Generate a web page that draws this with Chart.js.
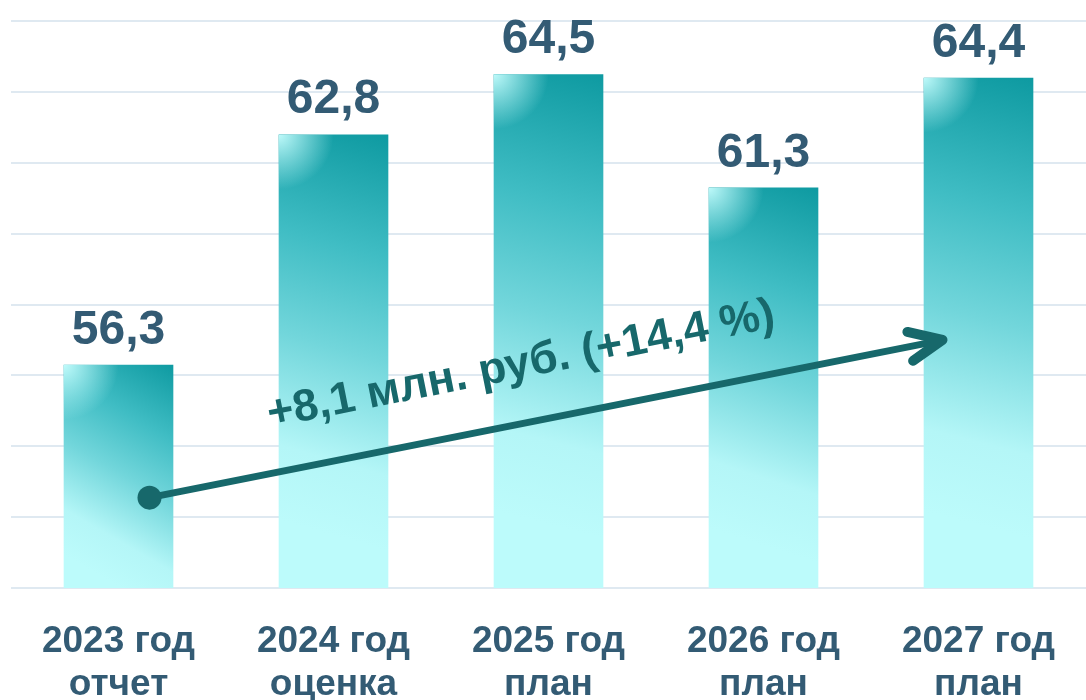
<!DOCTYPE html>
<html>
<head>
<meta charset="utf-8">
<script src="https://cdn.jsdelivr.net/npm/chart.js@4"></script>
<style>
    body { margin: 0; background: #ffffff; }
</style>
</head>
<body>
<canvas id="budget" width="1086" height="700"></canvas>
<script>
// Data for the chart
var years = ['2023 год', '2024 год', '2025 год', '2026 год', '2027 год'];
var stages = ['отчет', 'оценка', 'план', 'план', 'план'];
var values = [56.3, 62.8, 64.5, 61.3, 64.4];
var growthText = '+8,1 млн. руб. (+14,4 %)';

var textColor = '#335b74';
var arrowColor = '#17686b';
var fontFamily = '"Liberation Sans", Arial, sans-serif';

// Bar fill: diagonal teal gradient, built from the scales
function barFill(context) {
    var chart = context.chart;
    if (!chart.chartArea || context.type !== 'data') return '#4cc4cc';
    var xs = chart.scales.x, ys = chart.scales.y;
    var cx = xs.getPixelForValue(context.dataIndex);
    var top = ys.getPixelForValue(context.raw);
    var bottom = ys.getPixelForValue(ys.min);
    var half = 55;
    var g = chart.ctx.createLinearGradient(cx + half, top, cx - half, top + (bottom - top) * 0.85);
    g.addColorStop(0, '#0e9aa1');
    g.addColorStop(0.3, '#40bdc4');
    g.addColorStop(0.55, '#72d6db');
    g.addColorStop(0.82, '#b4f6f7');
    g.addColorStop(1, '#bcfbfb');
    return g;
}

// Light highlight in the top-left corner of every bar + value labels
var barExtras = {
    id: 'barExtras',
    afterDatasetsDraw: function (chart) {
        var ctx = chart.ctx;
        var meta = chart.getDatasetMeta(0);
        meta.data.forEach(function (bar, i) {
            var left = bar.x - bar.width / 2;
            ctx.save();
            ctx.beginPath();
            ctx.rect(left, bar.y, bar.width, bar.base - bar.y);
            ctx.clip();
            var r = ctx.createRadialGradient(left, bar.y, 0, left, bar.y, 55);
            r.addColorStop(0, 'rgba(200,255,255,0.95)');
            r.addColorStop(1, 'rgba(200,255,255,0)');
            ctx.fillStyle = r;
            ctx.fillRect(left, bar.y, 60, 60);
            ctx.restore();

            ctx.save();
            ctx.fillStyle = textColor;
            ctx.font = 'bold 48px ' + fontFamily;
            ctx.textAlign = 'center';
            ctx.textBaseline = 'alphabetic';
            ctx.fillText(values[i].toFixed(1).replace('.', ','), bar.x, bar.y - 21);
            ctx.restore();
        });
    }
};

// Growth arrow from the first year to the last one
var growthArrow = {
    id: 'growthArrow',
    afterDraw: function (chart) {
        var ctx = chart.ctx;
        var xs = chart.scales.x, ys = chart.scales.y;
        var x1 = xs.getPixelForValue(0) + 31, y1 = ys.getPixelForValue(52.55);
        var x2 = xs.getPixelForValue(4) - 36, y2 = ys.getPixelForValue(57.0);
        var ang = Math.atan2(y2 - y1, x2 - x1);

        ctx.save();
        ctx.strokeStyle = arrowColor;
        ctx.fillStyle = arrowColor;
        ctx.lineWidth = 7;
        ctx.lineCap = 'round';
        ctx.lineJoin = 'round';
        ctx.beginPath();
        ctx.moveTo(x1, y1);
        ctx.lineTo(x2 - 4, y2 + 1);
        ctx.stroke();

        // arrow head
        var len = 36, spread = 0.42;
        ctx.lineWidth = 10;
        ctx.beginPath();
        ctx.moveTo(x2 - len * Math.cos(ang - spread), y2 - len * Math.sin(ang - spread));
        ctx.lineTo(x2, y2);
        ctx.lineTo(x2 - len * Math.cos(ang + spread), y2 - len * Math.sin(ang + spread));
        ctx.stroke();

        // start dot
        ctx.beginPath();
        ctx.arc(x1, y1, 12, 0, Math.PI * 2);
        ctx.fill();

        // caption along the arrow
        var mx = (x1 + x2) / 2, my = (y1 + y2) / 2;
        ctx.translate(mx, my);
        ctx.rotate(ang);
        ctx.font = 'bold 45px ' + fontFamily;
        ctx.textAlign = 'center';
        ctx.textBaseline = 'alphabetic';
        ctx.fillText(growthText, -14, -45);
        ctx.restore();
    }
};

var ctx = document.getElementById('budget').getContext('2d');

var budgetChart = new Chart(ctx, {
    type: 'bar',
    data: {
        labels: years.map(function (y, i) { return [y, stages[i]]; }),
        datasets: [{
            data: values,
            backgroundColor: barFill,
            borderWidth: 0,
            barPercentage: 0.51,
            categoryPercentage: 1
        }]
    },
    options: {
        responsive: false,
        animation: false,
        layout: { padding: { left: 11, right: 0, top: 21, bottom: 0 } },
        plugins: {
            legend: { display: false },
            tooltip: { enabled: false }
        },
        scales: {
            x: {
                grid: { display: false },
                border: { display: false },
                afterFit: function (scale) { scale.height = 112; },
                ticks: {
                    color: textColor,
                    padding: 24,
                    font: { family: fontFamily, size: 37, weight: 'bold', lineHeight: '43px' }
                }
            },
            y: {
                min: 50,
                max: 66,
                border: { display: false },
                grid: { color: '#dfe9f1', lineWidth: 2, drawTicks: false },
                ticks: { display: false, stepSize: 2 }
            }
        }
    },
    plugins: [barExtras, growthArrow]
});
</script>
</body>
</html>
